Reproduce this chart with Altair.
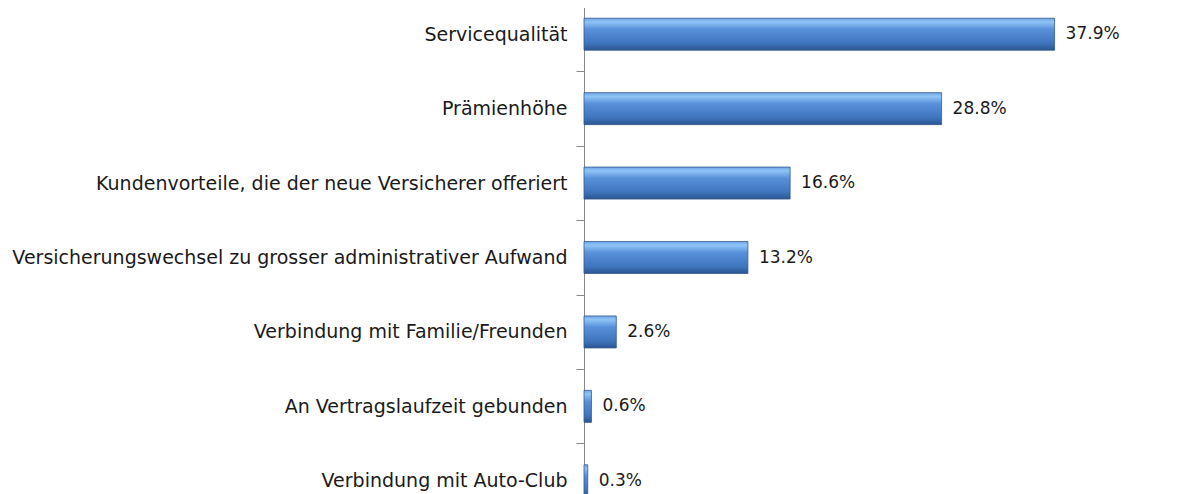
import altair as alt
import pandas as pd

categories = [
    "Servicequalität",
    "Prämienhöhe",
    "Kundenvorteile, die der neue Versicherer offeriert",
    "Versicherungswechsel zu grosser administrativer Aufwand",
    "Verbindung mit Familie/Freunden",
    "An Vertragslaufzeit gebunden",
    "Verbindung mit Auto-Club",
]
values = [37.9, 28.8, 16.6, 13.2, 2.6, 0.6, 0.3]
value_labels = ["37.9%", "28.8%", "16.6%", "13.2%", "2.6%", "0.6%", "0.3%"]

df = pd.DataFrame({"cat": categories, "val": values, "label": value_labels})

gradient = {
    "gradient": "linear",
    "x1": 0, "y1": 0, "x2": 0, "y2": 1,
    "stops": [
        {"offset": 0.0, "color": "#6FA6E6"},
        {"offset": 0.12, "color": "#8FC4F6"},
        {"offset": 0.35, "color": "#5890DA"},
        {"offset": 0.78, "color": "#3F75BD"},
        {"offset": 1.0, "color": "#2B5592"},
    ],
}

y_enc = alt.Y(
    "cat:N",
    sort=categories,
    scale=alt.Scale(range=[-13, 508], paddingInner=0.57, paddingOuter=0.285),
    axis=alt.Axis(
        title=None,
        bandPosition=1,
        tickOffset=21,
        labelOffset=-21,
        domainColor="#8a8a8a",
        tickColor="#8a8a8a",
        tickSize=8,
        labelFont="DejaVu Sans",
        labelFontSize=19,
        labelColor="#1a1a1a",
        labelPadding=9,
        labelLimit=1000,
    ),
)
x_enc = alt.X("val:Q", scale=alt.Scale(domain=[0, 48]), axis=None)

bars = alt.Chart(df).mark_bar(color=gradient, stroke="#35598C", strokeWidth=0.8).encode(
    x=x_enc, y=y_enc
)
texts = alt.Chart(df).mark_text(
    align="left", baseline="middle", dx=11, font="DejaVu Sans", fontSize=17, color="#1a1a1a"
).encode(x=x_enc, y=y_enc, text="label:N")

chart = (
    alt.layer(bars, texts)
    .properties(
        width=596,
        height=484,
        autosize=alt.AutoSizeParams(type="none"),
        padding={"left": 576, "top": 2, "right": 0, "bottom": 0},
    )
    .configure_view(stroke=None)
)

chart.save("out.html", embed_options={"renderer": "svg", "actions": False})
